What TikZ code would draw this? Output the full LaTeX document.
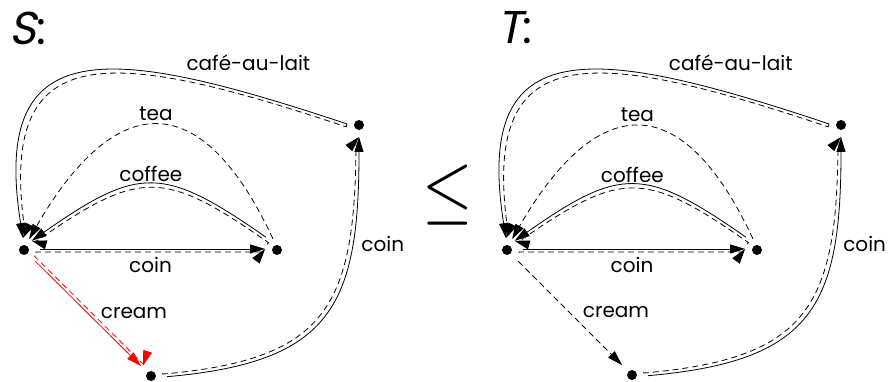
\documentclass[tikz,border=0pt]{standalone}
\usepackage{fontspec}
\setmainfont{Poppins}
\newfontfamily\slantfont[FakeSlant=0.2]{Poppins}
\usetikzlibrary{arrows.meta, decorations.pathmorphing}

\begin{document}
\begin{tikzpicture}[
  x=1pt, y=1pt, line width=0.8pt,
  state/.style={circle, fill, inner sep=0pt, minimum size=10pt, outer sep=7pt},
  lbl/.style={font=\fontsize{20}{22}\selectfont, inner sep=1pt},
  sysname/.style={font=\fontsize{46}{50}\selectfont, inner sep=0pt},
  may/.style={draw, dash pattern=on 6pt off 4pt, -{Triangle[length=15pt, width=9pt]}},
  must/.style={draw, -{Triangle[length=15pt, width=9pt]},
    postaction={draw, dash pattern=on 6pt off 4pt, decorate, decoration={curveto, raise=#1}}},
  must/.default=3pt
]
\useasboundingbox (0,0) rectangle (890,382);

% specification S
\node[sysname] (sname) at (28,354) {{\slantfont S}:};
\node[state] (s0) at (24,132) {};
\node[state] (s1) at (277,132) {};
\node[state] (s2) at (359,257) {};
\node[state] (s3) at (151,6) {};

\path[must=-3pt, shorten <=4pt] (s0.5) -- node[lbl, below=7pt] (scoin) {coin} (s1.175);
\path[must, shorten <=5pt] (s1.125) to[out=145, in=35, looseness=1.4] node[lbl, above=1pt] (scoffee) {coffee} (s0.50);
\path[may] (s1.110) to[out=115, in=60, looseness=1.8] node[lbl, above=3pt] (stea) {tea} (s0.65);
\path[must] (s2.175) .. controls (110,337) and (-10,352) .. node[lbl, above=21pt, pos=0.15] (scafe) {café-au-lait} (s0.95);
\path[must, red, shorten <=4pt, shorten >=2pt] (s0) -- node[lbl, text=black, right=12pt] (scream) {cream} (s3);
\path[must, shorten <=4pt] (s3.-5) to[out=5, in=-90, looseness=1.4] node[lbl, right=8pt, pos=0.75] (scoin2) {coin} (s2.-90);

% refinement symbol
\node[xscale=6.5, yscale=7.8, inner sep=0pt] (leq) at (448,187) {$\leq$};

% specification T
\begin{scope}[xshift=483pt]
\node[sysname] (tname) at (32,354) {{\slantfont T}:};
\node[state] (t0) at (24,132) {};
\node[state] (t1) at (274,132) {};
\node[state] (t2) at (358,257) {};
\node[state] (t3) at (149,7) {};

\path[must=-3pt, shorten <=4pt] (t0.5) -- node[lbl, below=7pt] (tcoin) {coin} (t1.175);
\path[must, shorten <=5pt] (t1.125) to[out=145, in=35, looseness=1.4] node[lbl, above=1pt] (tcoffee) {coffee} (t0.50);
\path[may] (t1.110) to[out=115, in=60, looseness=1.8] node[lbl, above=3pt] (ttea) {tea} (t0.65);
\path[must] (t2.175) .. controls (110,337) and (-10,352) .. node[lbl, above=21pt, pos=0.15] (tcafe) {café-au-lait} (t0.95);
\path[may, shorten <=4pt, shorten >=2pt] (t0) -- node[lbl, right=12pt] (tcream) {cream} (t3);
\path[must, shorten <=4pt] (t3.-5) to[out=5, in=-90, looseness=1.4] node[lbl, right=8pt, pos=0.75] (tcoin2) {coin} (t2.-90);
\end{scope}
\end{tikzpicture}
\end{document}
